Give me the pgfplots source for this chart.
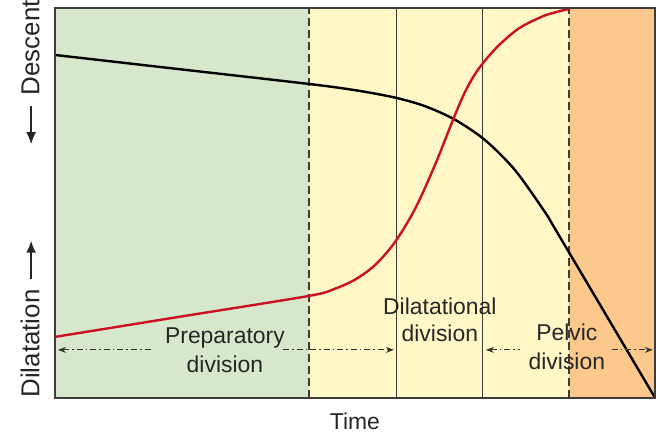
\documentclass[border=0pt]{standalone}
\usepackage{fontspec}
\setmainfont{Liberation Sans}
\usepackage{pgfplots}
\pgfplotsset{compat=1.18}
\usetikzlibrary{arrows.meta}

\definecolor{phaseA}{RGB}{215,231,204}
\definecolor{phaseB}{RGB}{255,248,198}
\definecolor{phaseC}{RGB}{253,200,140}
\definecolor{dilred}{RGB}{204,16,32}
\definecolor{framegray}{RGB}{60,60,60}

\begin{document}
\begin{tikzpicture}[font=\fontsize{11.5}{13.5}\selectfont]
\begin{axis}[
    scale only axis,
    width=300bp, height=195bp,
    xmin=0, xmax=600, ymin=0, ymax=390,
    xtick=\empty, ytick=\empty,
    axis on top,
    axis line style={framegray, line width=1bp},
    xlabel={Time},
    xlabel style={yshift=-4bp, text=black!85},
    clip=false,
]
% phase backgrounds
\addplot[fill=phaseA, draw=none] coordinates {(0,390) (254,390)} \closedcycle;
\addplot[fill=phaseB, draw=none] coordinates {(254,390) (514,390)} \closedcycle;
\addplot[fill=phaseC, draw=none] coordinates {(514,390) (600,390)} \closedcycle;

% division boundaries
\addplot[framegray, line width=0.8bp, dash pattern=on 4bp off 2bp] coordinates {(254,0) (254,390)};
\addplot[framegray, line width=0.8bp, dash pattern=on 4bp off 2bp] coordinates {(514,0) (514,390)};
\addplot[framegray, line width=0.5bp] coordinates {(342,0) (342,390)};
\addplot[framegray, line width=0.5bp] coordinates {(428,0) (428,390)};

% descent
\addplot[black, line width=1.2bp, smooth] coordinates {
    (0,343) (127,328.5) (254,314) (300,307.8) (340,300.4) (370,291.8)
    (400,278.3) (430,258) (460,228) (490,186) (500,169.5) (550,85) (600,0.5)
};
% dilatation
\addplot[dilred, line width=1.2bp, smooth] coordinates {
    (0,61) (127,81.5) (254,102) (280,109.2) (300,118.2) (320,132.7)
    (340,155.7) (360,188.7) (380,232.7) (400,282.7) (410,305.7)
    (420,323.7) (430,337.2) (445,353.7) (465,370.2) (490,382.5) (514,389)
};

% division arrows and labels
\tikzset{divarrow/.style={black!80, line width=0.5bp,
    dash pattern=on 3bp off 1.5bp on 0.8bp off 1.5bp}}
\draw[divarrow, {Stealth[length=4bp,width=3bp]}-] (axis cs:3,48) -- (axis cs:98,48);
\draw[divarrow, -{Stealth[length=4bp,width=3bp]}] (axis cs:228,48) -- (axis cs:339,48);
\draw[divarrow, {Stealth[length=4bp,width=3bp]}-] (axis cs:431,48) -- (axis cs:465,48);
\draw[divarrow, -{Stealth[length=4bp,width=3bp]}] (axis cs:557,48) -- (axis cs:598,48);

\node[align=center, text=black!85, inner sep=0pt] at (axis cs:170,47.5) {Preparatory\\[1bp]division};
\node[align=center, text=black!85, inner sep=0pt] at (axis cs:385,78.5) {Dilatational\\division};
\node[align=center, text=black!85, inner sep=0pt] at (axis cs:512,51) {Pelvic\\[1bp]division};

% y label
\tikzset{lblarrow/.style={black!85, line width=0.8bp}}
\node[rotate=90, anchor=south west, inner sep=0pt, text=black!85, font=\fontsize{13}{15}\selectfont]
    at ([xshift=-7.5bp]rel axis cs:0,0)
    {Dilatation\hspace{5bp}\tikz[baseline=-0.6ex]\draw[lblarrow,-{Latex[length=6bp,width=5bp]}] (0,0) -- (19bp,0);};
\node[rotate=90, anchor=south east, inner sep=0pt, text=black!85, font=\fontsize{13}{15}\selectfont]
    at ([xshift=-7.5bp,yshift=4bp]rel axis cs:0,1)
    {\tikz[baseline=-0.6ex]\draw[lblarrow,{Latex[length=6bp,width=5bp]}-] (0,0) -- (19bp,0);\hspace{5bp}Descent};

% keep the margins of the reference
\path ([xshift=-27.5bp,yshift=-20bp]rel axis cs:0,0);
\path ([xshift=0.5bp,yshift=4bp]rel axis cs:1,1);
\end{axis}
\end{tikzpicture}
\end{document}
